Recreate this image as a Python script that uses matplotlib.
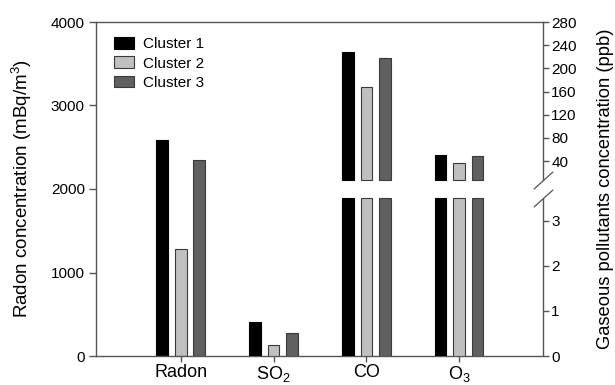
import numpy as np
import matplotlib
matplotlib.use("Agg")
import matplotlib.pyplot as plt
from matplotlib.patches import Patch

plt.rcParams['font.family'] = ['Liberation Sans', 'DejaVu Sans']
plt.rcParams['mathtext.default'] = 'regular'

# ---- data ----
categories = ['Radon', 'SO$_2$', 'CO', 'O$_3$']
clusters = ['Cluster 1', 'Cluster 2', 'Cluster 3']
radon = [2590, 1280, 2345]          # mBq/m3
so2 = [0.76, 0.24, 0.52]            # ppb
co = [229, 168, 218]                # ppb
o3 = [50, 36, 49]                   # ppb

colors = ['#000000', '#c0c0c0', '#606060']
edges = ['#000000', '#3a3a3a', '#3a3a3a']

# broken right axis: lower part 0-3.5 ppb, upper part from 7 ppb up
LOW_TOP = 3.5
UP_BOTTOM = 7.0
ppb_pts = [-1000.0, 0.0, LOW_TOP, UP_BOTTOM, 280.0, 2000.0]
unit_pts = [-1000 * 539.4, 0.0, 1888.0, 2106.0, 4000.0, 4000.0 + 1720 * 6.938]


def fwd(v):
    return np.interp(v, ppb_pts, unit_pts)


def inv(u):
    return np.interp(u, unit_pts, ppb_pts)


fig = plt.figure(figsize=(6.15, 3.85), dpi=100)
ax = fig.add_axes([96 / 615, 1 - 356 / 385, 447 / 615, 334 / 385])
ax2 = ax.twinx()
ax2.set_yscale('function', functions=(fwd, inv))

x = np.arange(len(categories))
offsets = [-0.2, 0.0, 0.2]
width = 0.125

# Radon on the left axis
for i in range(3):
    ax.bar(x[0] + offsets[i], radon[i], width, color=colors[i],
           edgecolor=edges[i], linewidth=0.8)

# gaseous pollutants on the broken right axis
gases = [so2, co, o3]
for g, vals in enumerate(gases):
    xc = x[g + 1]
    for i in range(3):
        v = vals[i]
        ax2.bar(xc + offsets[i], min(v, LOW_TOP), width, color=colors[i],
                edgecolor=edges[i], linewidth=0.8)
        if v > UP_BOTTOM:
            ax2.bar(xc + offsets[i], v - UP_BOTTOM, width, bottom=UP_BOTTOM,
                    color=colors[i], edgecolor=edges[i], linewidth=0.8)

ax.set_xlim(-0.913, 3.904)
ax.set_ylim(0, 4000)
ax2.set_ylim(0, 280)

spine_c = '#555555'
for s in ['left', 'bottom', 'top']:
    ax.spines[s].set_color(spine_c)
    ax.spines[s].set_linewidth(1.0)
ax.spines['right'].set_visible(False)
for s in ['left', 'bottom', 'top']:
    ax2.spines[s].set_visible(False)
ax2.spines['right'].set_color(spine_c)
ax2.spines['right'].set_linewidth(1.0)
ax2.spines['right'].set_bounds(UP_BOTTOM, 280)

# lower piece of the right spine
ytr = ax2.get_yaxis_transform()
ax2.plot([1, 1], [0, LOW_TOP], transform=ytr, color=spine_c, lw=1.0,
         clip_on=False, solid_capstyle='butt')
# break marks
ax2.plot([1, 1], [LOW_TOP, UP_BOTTOM], transform=ytr, linestyle='none',
         marker=[(-1, -0.9), (1, 0.9)], markersize=14, markeredgewidth=0.9,
         markeredgecolor=spine_c, clip_on=False)

ax.set_yticks([0, 1000, 2000, 3000, 4000])
ax.set_xticks(x)
ax.set_xticklabels(categories, fontsize=13)
ax.tick_params(axis='y', labelsize=11, length=5, width=1.0, color=spine_c, pad=3)
ax.tick_params(axis='x', length=4, width=1.0, color=spine_c, pad=2)

ax2.set_yticks([0, 1, 2, 3, 40, 80, 120, 160, 200, 240, 280])
ax2.set_yticklabels(['0', '1', '2', '3', '40', '80', '120', '160', '200', '240', '280'])
ax2.minorticks_off()
ax2.tick_params(axis='y', labelsize=11, length=4, width=1.0, color=spine_c, pad=2)

ax.set_ylabel('Radon concentration (mBq/m$^3$)', fontsize=13.5)
ax.yaxis.set_label_coords(-0.139, 0.5)
ax2.set_ylabel('Gaseous pollutants concentration (ppb)', fontsize=13.2)
ax2.yaxis.set_label_coords(1.121, 0.5)

handles = [Patch(facecolor=colors[i], edgecolor=edges[i], linewidth=0.8)
           for i in range(3)]
ax.legend(handles, clusters, loc='upper left', bbox_to_anchor=(0.041, 0.954),
          frameon=False, fontsize=11, handlelength=1.3, handleheight=0.78,
          handletextpad=0.55, labelspacing=0.33, borderpad=0, borderaxespad=0)

fig.savefig('out.png', dpi=100)
